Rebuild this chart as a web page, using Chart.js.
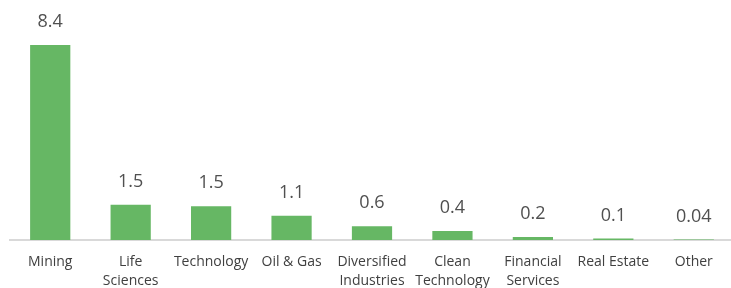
<!DOCTYPE html>
<html>
<head>
<meta charset="utf-8">
<script src="https://cdn.jsdelivr.net/npm/chart.js@4/dist/chart.umd.min.js"></script>
<style>
  html, body { margin: 0; padding: 0; background: #ffffff; overflow: hidden; }
  #wrap { width: 734px; height: 288px; position: relative; }
</style>
</head>
<body>
<div id="wrap"><canvas id="c"></canvas></div>
<script>
const categories = [
  ["Mining"], ["Life", "Sciences"], ["Technology"], ["Oil & Gas"],
  ["Diversified", "Industries"], ["Clean", "Technology"], ["Financial", "Services"],
  ["Real Estate"], ["Other"]
];
const values = [8.4, 1.52, 1.45, 1.05, 0.59, 0.39, 0.13, 0.06, 0.02];
const valueLabels = ["8.4", "1.5", "1.5", "1.1", "0.6", "0.4", "0.2", "0.1", "0.04"];

const labelPlugin = {
  id: 'valueLabels',
  afterDatasetsDraw(chart) {
    const ctx = chart.ctx;
    const meta = chart.getDatasetMeta(0);
    ctx.save();
    ctx.font = '18px "Open Sans", sans-serif';
    ctx.fillStyle = '#505050';
    ctx.textAlign = 'center';
    ctx.textBaseline = 'middle';
    meta.data.forEach((bar, i) => {
      ctx.fillText(valueLabels[i], bar.x, bar.y - 23);
    });
    ctx.restore();
  }
};

new Chart(document.getElementById('c'), {
  type: 'bar',
  data: {
    labels: categories,
    datasets: [{
      data: values,
      backgroundColor: '#66b764',
      borderWidth: 0,
      barPercentage: 1,
      categoryPercentage: 0.5
    }]
  },
  options: {
    responsive: true,
    maintainAspectRatio: false,
    animation: false,
    layout: { padding: { top: 8, left: 10, right: 0, bottom: 0 } },
    plugins: { legend: { display: false }, tooltip: { enabled: false } },
    scales: {
      x: {
        grid: { display: false, drawTicks: false },
        border: { display: true, color: '#d9d9d9', width: 2 },
        ticks: {
          color: '#404040',
          font: { family: '"Open Sans", sans-serif', size: 14, lineHeight: 1.39 },
          padding: 12,
          maxRotation: 0,
          autoSkip: false
        },
        afterFit(scale) { scale.height = 48; }
      },
      y: {
        display: false,
        min: 0,
        max: 10
      }
    }
  },
  plugins: [labelPlugin]
});
</script>
</body>
</html>
